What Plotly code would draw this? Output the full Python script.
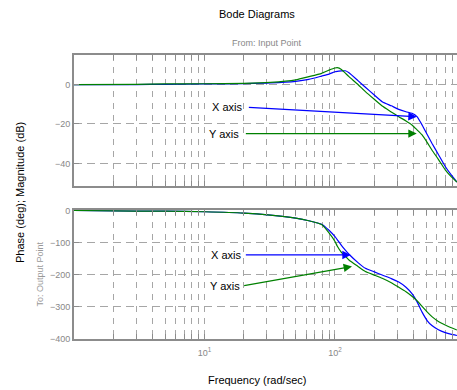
import math
import plotly.graph_objects as go
from plotly.subplots import make_subplots

# ---- data ----
freq = [1, 3, 5, 10, 20, 32, 50, 63, 79, 90, 100, 104, 112, 120, 128, 150, 171,
        200, 230, 270, 308, 350, 389, 425, 465, 510, 553, 620, 700, 770, 860]
mag_x = [0, 0, 0.1, 0.3, 0.5, 0.8, 1.6, 2.6, 4.3, 5.3, 6.5, 6.7, 6.9, 7.0, 6.0, 2.0, -1.4,
         -5.3, -8.7, -10.8, -12.6, -13.8, -14.6, -16.3, -20.5, -25.5, -29.8, -35.5, -41.6, -45.5, -49.5]
mag_y = [0, 0.1, 0.3, 0.4, 0.6, 1.1, 2.4, 4.0, 5.7, 7.3, 8.4, 8.6, 7.7, 5.8, 4.0, 0.0, -3.6,
         -7.5, -10.9, -13.9, -16.3, -18.5, -20.5, -23.0, -25.6, -29.5, -33.2, -38.0, -43.3, -46.5, -49.5]
ph_x = [0, -2, -2, -4, -8, -14.5, -24, -32, -43, -62, -82, -91, -109, -124, -137, -163, -181,
        -192, -202, -213, -224, -240, -260, -285, -318, -345, -360, -373, -382, -387, -391]
ph_y = [0, -2, -2, -4, -8, -14.5, -24, -32, -44, -70, -97, -111, -131, -143, -155, -175, -191,
        -202, -212, -226, -240, -254, -268, -282, -300, -318, -332, -347, -358, -366, -374]

x_tickvals = [10, 100]
x_ticktext = ["10<sup>1</sup>", "10<sup>2</sup>"]
x_minor = [2, 3, 4, 5, 6, 7, 8, 9, 20, 30, 40, 50, 60, 70, 80, 90, 200, 300, 400, 500, 600, 700, 800, 900]
mag_ticks = [0, -20, -40]
ph_ticks = [0, -100, -200, -300, -400]

# annotation arrows: (label, tail_freq, tail_val, tip_freq, tip_val)
mag_arrows = [("X axis", 21.3, -11.5, 423, -16.3), ("Y axis", 20.2, -24.9, 423, -24.9)]
ph_arrows = [("X axis", 20.2, -139, 132, -139), ("Y axis", 19.6, -236, 135, -175)]

BLUE = "#0000ff"
GREEN = "#008000"
GRID = "#a6a6a6"
AXC = "#8c8c8c"
FONT = "Liberation Sans, Arial, sans-serif"

fig = make_subplots(rows=2, cols=1, shared_xaxes=True)

LS = dict(width=1.2, shape="spline", smoothing=0.5)
fig.add_trace(go.Scatter(x=freq, y=mag_x, mode="lines", line=dict(LS, color=BLUE)), row=1, col=1)
fig.add_trace(go.Scatter(x=freq, y=mag_y, mode="lines", line=dict(LS, color=GREEN)), row=1, col=1)
fig.add_trace(go.Scatter(x=freq, y=ph_x, mode="lines", line=dict(LS, color=BLUE)), row=2, col=1)
fig.add_trace(go.Scatter(x=freq, y=ph_y, mode="lines", line=dict(LS, color=GREEN)), row=2, col=1)

xcommon = dict(type="log", range=[0, 2.935], showline=True, linecolor=AXC, linewidth=2,
               mirror="allticks", ticks="inside", ticklen=5, tickcolor=AXC,
               tickvals=x_tickvals, ticktext=x_ticktext, automargin=False,
               showgrid=True, gridcolor=GRID, gridwidth=1, griddash="6px,6px",
               minor=dict(tickvals=x_minor, ticks="inside", ticklen=5, tickcolor=AXC,
                          showgrid=True, gridcolor=GRID, gridwidth=1, griddash="6px,6px"),
               tickfont=dict(family=FONT, size=9, color="#888888"), zeroline=False)
fig.update_layout(xaxis=dict(xcommon, showticklabels=False),
                  xaxis2=dict(xcommon, showticklabels=True, ticklabelstandoff=4))

ycommon = dict(showline=True, linecolor=AXC, linewidth=2, mirror=False, ticks="inside", ticklen=5,
               tickcolor=AXC, showgrid=True, gridcolor=GRID, gridwidth=1, griddash="8px,5px",
               zeroline=False, automargin=False, tickfont=dict(family=FONT, size=9, color="#888888"))
fig.update_layout(yaxis=dict(ycommon, domain=[0.5387, 1], range=[-51.5, 15], tickvals=mag_ticks),
                  yaxis2=dict(ycommon, domain=[0, 0.4542], range=[-402, 1.5], tickvals=ph_ticks))

anns = []
for (lab, tf, tv, hf, hv), col in zip(mag_arrows, [BLUE, GREEN]):
    anns.append(dict(x=math.log10(hf), y=hv, ax=math.log10(tf), ay=tv, xref="x", yref="y",
                     axref="x", ayref="y", text="", showarrow=True, arrowhead=2, arrowsize=1.4,
                     arrowwidth=1.2, arrowcolor=col))
    anns.append(dict(x=math.log10(tf), y=tv, xref="x", yref="y", text=lab, showarrow=False,
                     xanchor="right", yanchor="middle", xshift=-3,
                     font=dict(family=FONT, size=11, color="#000000")))
for (lab, tf, tv, hf, hv), col in zip(ph_arrows, [BLUE, GREEN]):
    anns.append(dict(x=math.log10(hf), y=hv, ax=math.log10(tf), ay=tv, xref="x2", yref="y2",
                     axref="x2", ayref="y2", text="", showarrow=True, arrowhead=2, arrowsize=1.4,
                     arrowwidth=1.2, arrowcolor=col))
    anns.append(dict(x=math.log10(tf), y=tv, xref="x2", yref="y2", text=lab, showarrow=False,
                     xanchor="right", yanchor="middle", xshift=-1,
                     font=dict(family=FONT, size=11, color="#000000")))

W, H = 457, 390
L, R, T, B = 74, 0, 55, 51
pw, ph = W - L - R, H - T - B
def pp(xp, yp):
    return dict(x=(xp - L) / pw, y=(H - B - yp) / ph, xref="paper", yref="paper")

anns.append(dict(pp(257, 14), text="Bode Diagrams", showarrow=False, xanchor="center", yanchor="middle",
                 font=dict(family=FONT, size=11, color="#000000")))
anns.append(dict(pp(267, 43), text="From: Input Point", showarrow=False, xanchor="center", yanchor="middle",
                 font=dict(family=FONT, size=9, color="#888888")))
anns.append(dict(pp(257, 380), text="Frequency (rad/sec)", showarrow=False, xanchor="center", yanchor="middle",
                 font=dict(family=FONT, size=11, color="#000000")))
anns.append(dict(pp(20, 192), text="Phase (deg); Magnitude (dB)", showarrow=False, textangle=-90,
                 xanchor="center", yanchor="middle", font=dict(family=FONT, size=11, color="#000000")))
anns.append(dict(pp(39.5, 274), text="To: Output Point", showarrow=False, textangle=-90,
                 xanchor="center", yanchor="middle", font=dict(family=FONT, size=9, color="#999999")))

fig.update_layout(width=W, height=H, margin=dict(l=L, r=R, t=T, b=B, pad=0, autoexpand=False),
                  paper_bgcolor="white", plot_bgcolor="white", showlegend=False,
                  annotations=anns, font=dict(family=FONT))

fig.write_html("out.html", config={"displayModeBar": False},
               post_script="document.body.style.margin='0';document.body.style.overflow='hidden';")
